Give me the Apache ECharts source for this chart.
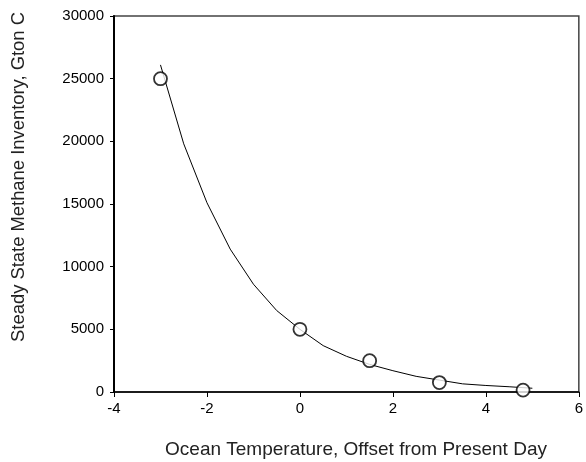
<!DOCTYPE html>
<html>
<head>
<meta charset="utf-8">
<script src="https://cdn.jsdelivr.net/npm/echarts@6/dist/echarts.min.js"></script>
<style>
  html, body { margin: 0; padding: 0; background: #fff; }
  #chart { width: 586px; height: 462px; }
</style>
</head>
<body>
<div id="chart"></div>
<script>
// Model steady-state methane inventory (Gton C) vs ocean temperature offset
const fitTemps = [-3, -2.5, -2, -1.5, -1, -0.5, 0, 0.5, 1, 1.5, 2, 2.5, 3, 3.5, 4, 4.5, 5];
const fitInventory = [26100, 19800, 15100, 11400, 8600, 6500, 5000, 3700, 2850, 2200, 1700, 1250, 950, 650, 520, 420, 300];

// Model runs shown as open circles
const runTemps = [-3, 0, 1.5, 3, 4.8];
const runInventory = [25000, 5000, 2500, 750, 150];

const xTitle = 'Ocean Temperature, Offset from Present Day';
const yTitle = 'Steady State Methane Inventory, Gton C';

const font = '"Liberation Sans", Arial, Helvetica, sans-serif';

const chart = echarts.init(document.getElementById('chart'), null, { renderer: 'canvas' });

chart.setOption({
  animation: false,
  backgroundColor: '#ffffff',
  grid: {
    left: 114, right: 5, top: 16, bottom: 70,
    show: true, borderColor: '#444', borderWidth: 1.5, backgroundColor: 'transparent'
  },
  xAxis: {
    type: 'value', min: -4, max: 6, interval: 2,
    axisLine: { show: true, onZero: false, lineStyle: { color: '#000', width: 1.5 } },
    axisTick: { show: true, inside: false, length: 5, lineStyle: { color: '#000', width: 1 } },
    axisLabel: { color: '#000', fontSize: 15, fontFamily: font, margin: 9, showMaxLabel: true, showMinLabel: true },
    splitLine: { show: false }
  },
  yAxis: {
    type: 'value', min: 0, max: 30000, interval: 5000,
    axisLine: { show: true, onZero: false, lineStyle: { color: '#000', width: 2 } },
    axisTick: { show: true, inside: false, length: 4, lineStyle: { color: '#000', width: 1 } },
    axisLabel: { color: '#000', fontSize: 15, fontFamily: font, margin: 10, formatter: v => String(v) },
    splitLine: { show: false }
  },
  series: [
    {
      type: 'line',
      data: fitTemps.map((t, i) => [t, fitInventory[i]]),
      showSymbol: false,
      symbol: 'none',
      smooth: false,
      lineStyle: { color: '#000', width: 1 },
      z: 2
    },
    {
      type: 'scatter',
      data: runTemps.map((t, i) => [t, runInventory[i]]),
      symbol: 'circle',
      symbolSize: 13,
      itemStyle: { color: '#fff', borderColor: '#000', borderWidth: 1.8 },
      z: 3
    }
  ],
  graphic: [
    {
      type: 'text',
      x: 356, y: 450,
      style: { text: xTitle, font: '19px ' + font, fill: '#222', textAlign: 'center', textVerticalAlign: 'middle' }
    },
    {
      type: 'text',
      x: 19, y: 177,
      rotation: Math.PI / 2,
      style: { text: yTitle, font: '18.4px ' + font, fill: '#222', textAlign: 'center', textVerticalAlign: 'middle' }
    }
  ]
});
</script>
</body>
</html>
